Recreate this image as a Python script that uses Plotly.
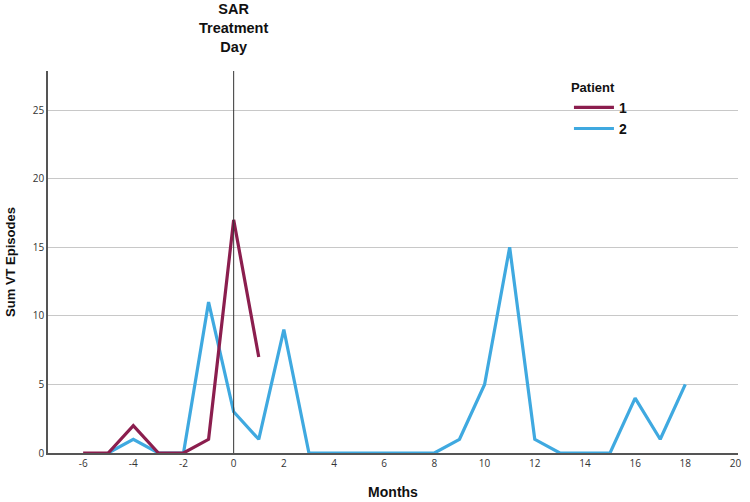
import plotly.graph_objects as go

months_p1 = [-6, -5, -4, -3, -2, -1, 0, 1]
vt_p1 = [0, 0, 2, 0, 0, 1, 17, 7]

months_p2 = [-5, -4, -3, -2, -1, 0, 1, 2, 3, 4, 5, 6, 7, 8, 9, 10, 11, 12, 13, 14, 15, 16, 17, 18]
vt_p2 = [0, 1, 0, 0, 11, 3, 1, 9, 0, 0, 0, 0, 0, 0, 1, 5, 15, 1, 0, 0, 0, 4, 1, 5]

x_ticks = list(range(-6, 21, 2))
y_ticks = [0, 5, 10, 15, 20, 25]

fig = go.Figure()
fig.add_trace(go.Scatter(x=months_p2, y=vt_p2, mode="lines", name="<b>2</b>",
                         line=dict(color="#3FA9E0", width=3.2)))
fig.add_trace(go.Scatter(x=months_p1, y=vt_p1, mode="lines", name="<b>1</b>",
                         line=dict(color="#8B1E4E", width=3.2)))

fig.add_shape(type="line", x0=0, x1=0, y0=0, y1=1, xref="x", yref="paper",
              line=dict(color="#333333", width=1))

fig.add_annotation(x=0, y=1, xref="x", yref="paper", yshift=14, yanchor="bottom",
                   text="<b>SAR<br>Treatment<br>Day</b>", showarrow=False,
                   font=dict(family="Liberation Sans, Arial", size=14.5, color="#111111"))

fig.update_layout(
    width=750, height=502,
    margin=dict(l=48, r=12, t=71, b=49),
    paper_bgcolor="white", plot_bgcolor="white",
    font=dict(family="Open Sans", color="#333333"),
    legend=dict(title=dict(text="<b>Patient</b>", font=dict(family="Liberation Sans, Arial", size=13, color="#111111")),
                x=0.755, y=0.99, xanchor="left", yanchor="top",
                traceorder="reversed", itemwidth=40,
                font=dict(family="Liberation Sans, Arial", size=14, color="#111111"),
                bgcolor="rgba(255,255,255,0)", tracegroupgap=0),
    showlegend=True,
)

fig.update_xaxes(range=[-7.4, 20.1], tickvals=x_ticks, ticktext=[str(t) for t in x_ticks],
                 showgrid=False, zeroline=False, showline=True, linecolor="#555555", linewidth=1.5,
                 ticks="", tickfont=dict(size=10, color="#333333"), automargin=False,
                 title=dict(text="<b>Months</b>", font=dict(family="Liberation Sans, Arial", size=14, color="#111111"), standoff=18))
fig.update_yaxes(range=[0, 27.85], tickvals=y_ticks,
                 showgrid=True, gridcolor="#C8C8C8", gridwidth=1, zeroline=False,
                 showline=True, linecolor="#555555", linewidth=1.5,
                 ticks="", tickfont=dict(size=10, color="#333333"), automargin=False,
                 title=dict(text="<b>Sum VT Episodes</b>", font=dict(family="Liberation Sans, Arial", size=13, color="#111111"), standoff=14))

fig.write_html("out.html")
